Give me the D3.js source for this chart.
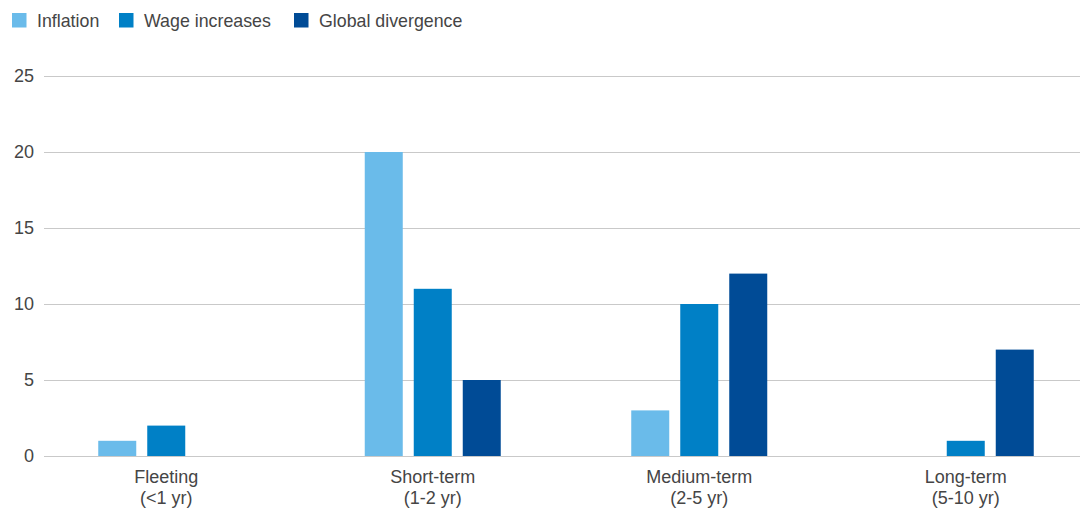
<!DOCTYPE html>
<html><head><meta charset="utf-8">
<script src="https://cdn.jsdelivr.net/npm/d3@7"></script>
<style>body{margin:0;background:#fff}svg{display:block}text{font-family:"Liberation Sans",Arial,sans-serif;font-weight:400;fill:#454545}</style>
</head><body><svg id="c" width="1080" height="508"></svg>
<script>
const categories = ["Fleeting|(<1 yr)", "Short-term|(1-2 yr)", "Medium-term|(2-5 yr)", "Long-term|(5-10 yr)"];
const seriesNames = ["Inflation", "Wage increases", "Global divergence"];
const inflation = [1, 20, 3, 0];
const wageIncreases = [2, 11, 10, 1];
const globalDivergence = [0, 5, 12, 7];
const yTicks = [0, 5, 10, 15, 20, 25];
const colors = ["#6abbea", "#0080c6", "#004b96"];

const seriesValues = [inflation, wageIncreases, globalDivergence];
const svg = d3.select("#c");
const y = d3.scaleLinear().domain([0, 25]).range([456, 76]);
const x0 = d3.scaleBand().domain(categories).range([33, 1099]);
const groupW = 136;
const x1 = d3.scaleBand().domain(seriesNames)
  .range([(x0.bandwidth() - groupW) / 2, (x0.bandwidth() + groupW) / 2]).paddingInner(11 / 49);

// grid
const yAxis = d3.axisLeft(y).tickValues(yTicks).tickSize(-(1080 - 44)).tickPadding(10);
const ga = svg.append("g").attr("transform", "translate(44,0)").call(yAxis);
ga.select(".domain").remove();
ga.selectAll(".tick line").attr("stroke", "#c9c9c9").attr("stroke-width", 1.2);
ga.selectAll(".tick text").attr("font-size", 18).attr("fill", "#454545").attr("font-family", "'Liberation Sans', Arial, sans-serif");

// bars
const groups = svg.append("g").selectAll("g").data(categories).join("g")
  .attr("transform", d => `translate(${x0(d)},0)`);
groups.selectAll("rect").data((d, i) => seriesNames.map((s, j) => ({ s, j, v: seriesValues[j][i] })).filter(o => o.v > 0))
  .join("rect")
  .attr("x", o => x1(o.s)).attr("width", x1.bandwidth())
  .attr("y", o => y(o.v)).attr("height", o => y(0) - y(o.v))
  .attr("fill", o => colors[o.j]);

// x labels
const lab = svg.append("g").selectAll("text").data(categories).join("text")
  .attr("x", d => x0(d) + x0.bandwidth() / 2).attr("y", 483)
  .attr("text-anchor", "middle").attr("font-size", 18);
lab.selectAll("tspan").data(d => d.split("|")).join("tspan")
  .attr("x", function () { return this.parentNode.getAttribute("x"); })
  .attr("dy", (d, i) => i ? 21 : 0).text(d => d);

// legend
const legX = [12, 119, 294];
const leg = svg.append("g").selectAll("g").data(seriesNames).join("g")
  .attr("transform", (d, i) => `translate(${legX[i]},13)`);
leg.append("rect").attr("width", 14.5).attr("height", 14.5).attr("fill", (d, i) => colors[i]);
leg.append("text").attr("x", 25).attr("y", 14).attr("font-size", 17.8).text(d => d);
</script></body></html>
